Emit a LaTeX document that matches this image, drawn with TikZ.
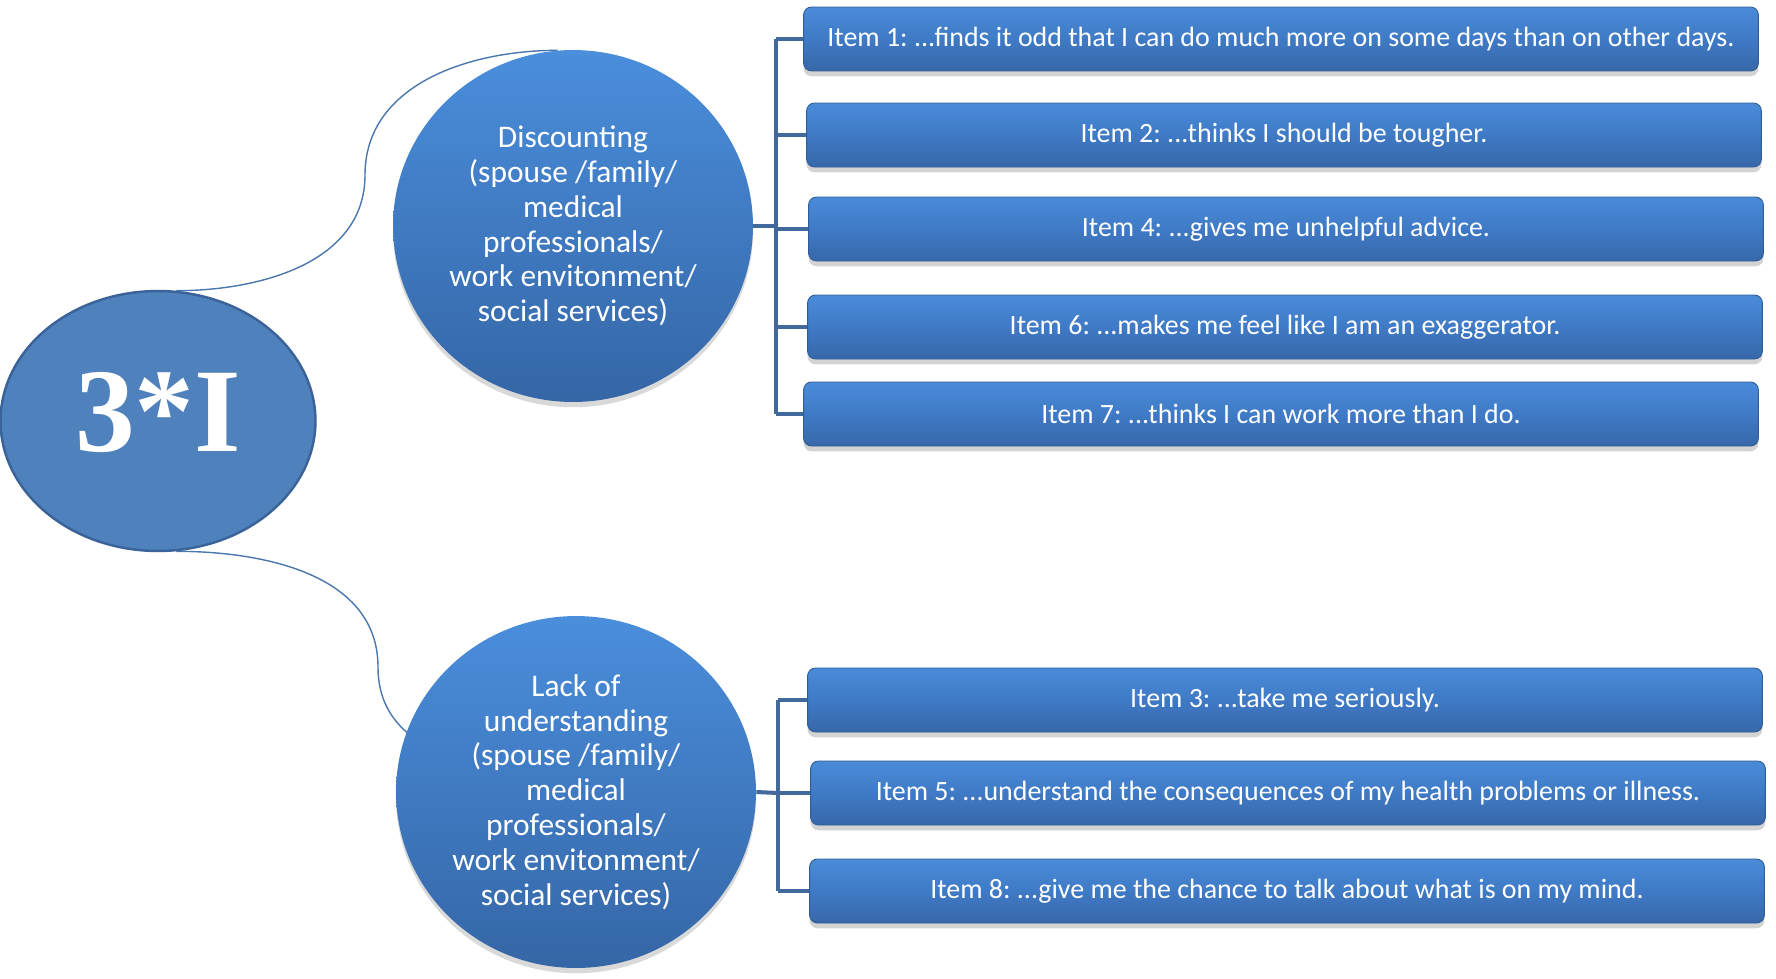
\documentclass[tikz,border=0pt]{standalone}
\usepackage{fontspec}
\setmainfont{Carlito}
\newfontfamily\rootfont{Liberation Serif}
\usepackage{xcolor}
\usepackage{tikz}
\usetikzlibrary{positioning,shapes.geometric,shadows,backgrounds}
\frenchspacing
\definecolor{OvalBlue}{HTML}{4F81BD}
\definecolor{OvalEdge}{HTML}{3A6399}
\definecolor{CircTop}{HTML}{4A8EDC}
\definecolor{CircBot}{HTML}{3566A6}
\definecolor{BoxTop}{HTML}{4A8BD8}
\definecolor{BoxMid}{HTML}{3F7AC6}
\definecolor{BoxBot}{HTML}{3767A8}
\definecolor{BoxEdge}{HTML}{2F5E97}
\definecolor{LinkBlue}{HTML}{41699C}
\definecolor{CurveBlue}{HTML}{4A77AD}
\tikzset{
  rootoval/.style={ellipse,draw=OvalEdge,line width=1.4pt,fill=OvalBlue,minimum width=6.3cm,minimum height=5.2cm,inner sep=0pt,text=white,font=\rootfont\bfseries\fontsize{68}{70}\selectfont},
  hubcircle/.style={ellipse,top color=CircTop,bottom color=CircBot,minimum width=7.2cm,minimum height=7.04cm,inner sep=0pt,align=center,text=white,font=\fontsize{17.9}{19.8}\selectfont,drop shadow={shadow xshift=0pt,shadow yshift=-3pt,opacity=0.3}},
  itembox/.style={rectangle,rounded corners=4.5pt,draw=BoxEdge,line width=0.5pt,top color=BoxTop,bottom color=BoxBot,middle color=BoxMid,minimum width=19.1cm,minimum height=1.28cm,inner sep=0pt,text=white,font=\fontsize{15.9}{18}\selectfont,drop shadow={shadow xshift=0pt,shadow yshift=-3pt,opacity=0.35}},
  bracketline/.style={line width=2.3pt,draw=LinkBlue},
  curvelink/.style={line width=0.8pt,draw=CurveBlue}
}
\begin{document}
\begin{tikzpicture}[x=0.02cm,y=-0.02cm]
\useasboundingbox (0,0) rectangle (1776,978);
% centre and the two groups
\node[rootoval] (root) at (158,421) {\raisebox{0.18cm}[\height][0pt]{3*I}};
\node[hubcircle] (disc) at (573,226) {Discounting\\(spouse /family/\\medical\\professionals/\\work envitonment/\\social services)};
\node[hubcircle] (lack) at (576,792) {Lack of\\understanding\\(spouse /family/\\medical\\professionals/\\work envitonment/\\social services)};
% items of the first group
\node[itembox] (i1) at (1281,39) {Item 1: ...finds it odd that I can do much more on some days than on other days.};
\node[itembox] (i2) at (1284,135) {Item 2: ...thinks I should be tougher.};
\node[itembox] (i4) at (1286,229) {Item 4: ...gives me unhelpful advice.};
\node[itembox] (i6) at (1285,327) {Item 6: ...makes me feel like I am an exaggerator.};
\node[itembox] (i7) at (1281,414) {Item 7: ...thinks I can work more than I do.};
% items of the second group
\node[itembox] (i3) at (1285,700) {Item 3: ...take me seriously.};
\node[itembox] (i5) at (1288,793) {Item 5: ...understand the consequences of my health problems or illness.};
\node[itembox] (i8) at (1287,891) {Item 8: ...give me the chance to talk about what is on my mind.};
\coordinate (hubA) at (776,226);
\coordinate (hubB) at (778,793);
\begin{pgfonlayer}{background}
\draw[curvelink] (root.82) to[out=0,in=-90] (365,175) to[out=90,in=180] (disc.95);
\draw[curvelink] (root.-82) to[out=0,in=90] (378,667) to[out=-90,in=165] (lack.center);
\end{pgfonlayer}
% brackets
\draw[bracketline] (disc.east) -- (hubA);
\draw[bracketline] (hubA |- i1.west) -- (hubA |- i7.west);
\foreach \n in {i1,i2,i4,i6,i7}
  \draw[bracketline] (hubA |- \n.west) -- (\n.west);
\draw[bracketline] (lack.east) -- (hubB);
\draw[bracketline] (hubB |- i3.west) -- (hubB |- i8.west);
\foreach \n in {i3,i5,i8}
  \draw[bracketline] (hubB |- \n.west) -- (\n.west);
\end{tikzpicture}
\end{document}
